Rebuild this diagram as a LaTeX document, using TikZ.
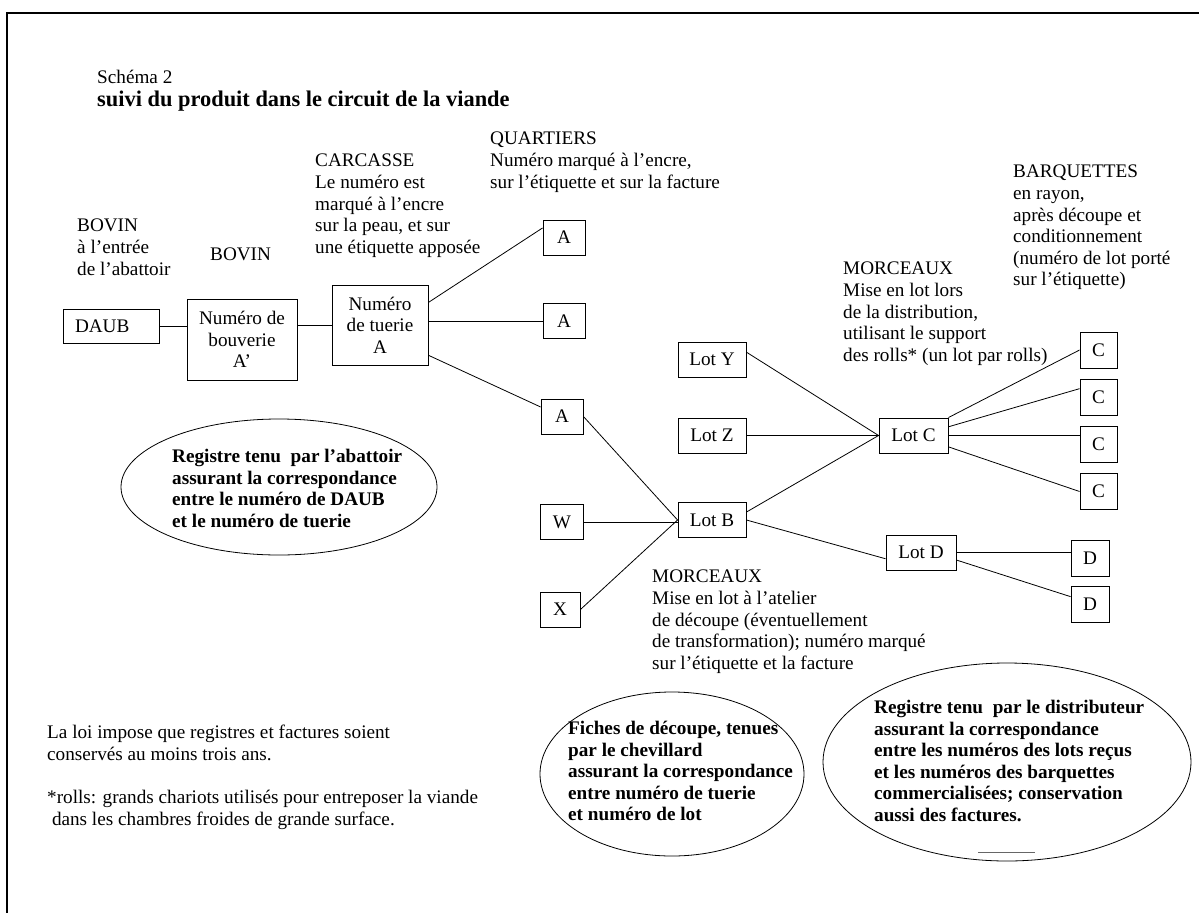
\documentclass[tikz,border=0pt]{standalone}
\usepackage{fontspec}
\setmainfont{Liberation Serif}
\usetikzlibrary{shapes.geometric}
\newcommand\txt{\fontsize{19.2}{21.6}\selectfont}
\newcommand\titre{\fontsize{22.4}{25}\selectfont\bfseries}
\tikzset{
  boite/.style={draw, line width=0.9pt, inner sep=0pt, minimum height=35pt, align=center, font=\txt},
  texte/.style={anchor=north west, inner sep=0pt, align=left, font=\txt},
  registre/.style={anchor=north west, inner sep=0pt, align=left, font=\txt\bfseries},
  lien/.style={line width=0.8pt}
}
\begin{document}
\begin{tikzpicture}[x=1pt,y=-1pt]
\useasboundingbox (0,0) rectangle (1199,913);
% cadre
\draw[line width=2.5pt] (6,13) -- (1199,13);
\draw[line width=1.5pt] (7,13) -- (7,913);
% titre
\node[texte] (schema) at (97,70) {Schéma 2};
\node[texte, font=\titre] (titre) at (97,91) {suivi du produit dans le circuit de la viande};
% abattoir
\node[boite, text width=72pt, inner xsep=12pt, align=left, minimum height=34pt] (daub) at (111,326) {DAUB};
\node[boite, minimum width=110pt, minimum height=81pt] (bouv) at (242,339.5) {Numéro de\\bouverie\\A’};
\node[boite, minimum width=96pt, minimum height=80pt] (tuer) at (380,325) {Numéro\\de tuerie\\A};
\node[boite, minimum width=42pt] (a1) at (564,237.5) {A};
\node[boite, minimum width=42pt] (a2) at (564,321) {A};
\node[boite, minimum width=42pt] (a3) at (562,416.5) {A};
% atelier de decoupe
\node[boite, minimum width=43pt] (bw) at (562,522) {W};
\node[boite, minimum width=40pt] (bx) at (560,609.5) {X};
\node[boite, minimum width=68pt] (loty) at (712,359.5) {Lot Y};
\node[boite, minimum width=68pt] (lotz) at (712,435.5) {Lot Z};
\node[boite, minimum width=68pt] (lotb) at (712,520) {Lot B};
% distribution
\node[boite, minimum width=69pt] (lotc) at (913.5,435.5) {Lot C};
\node[boite, minimum width=70pt] (lotd) at (921,552.5) {Lot D};
\foreach \i/\y in {1/350,2/397.5,3/444.5,4/491.5}
  \node[boite, minimum width=37pt, minimum height=36pt] (c\i) at (1098.5,\y) {C};
\foreach \i/\y in {1/558,2/604.5}
  \node[boite, minimum width=38pt, minimum height=36pt] (d\i) at (1090,\y) {D};
% liens
\draw[lien] (daub.east) -- (daub.east -| bouv.west);
\draw[lien] (bouv.east |- tuer.west) -- (tuer.west);
\draw[lien] (tuer.25) -- (a1.156);
\draw[lien] (a2.west -| tuer.east) -- (a2.west);
\draw[lien] (tuer.-32) -- (a3.156);
\draw[lien] (a3.east) -- (lotb.west);
\draw[lien] (bw.east) -- (bw.east -| lotb.west);
\draw[lien] (bx.east) -- (lotb.west);
\draw[lien] (lotb.13) -- (lotc.west);
\draw[lien] (loty.12) -- (lotc.west);
\draw[lien] (lotz.east) -- (lotc.west);
\draw[lien] (lotc.north east) -- (c1.west);
\draw[lien] (lotc.14) -- (c2.155);
\draw[lien] (lotc.east) -- (lotc.east -| c3.west);
\draw[lien] (lotc.-18) -- (c4.west);
\draw[lien] (lotb.east) -- (lotd.190);
\draw[lien] (lotd.east) -- (lotd.east -| d1.west);
\draw[lien] (lotd.-12) -- (d2.158);
% textes
\node[texte] (bovin) at (77,219) {BOVIN\\à l’entrée\\de l’abattoir};
\node[texte] (bovinb) at (210,248) {BOVIN};
\node[texte] (carcasse) at (315,154) {CARCASSE\\Le numéro est\\marqué à l’encre\\sur la peau, et sur\\une étiquette apposée};
\node[texte] (quartiers) at (490,132) {QUARTIERS\\Numéro marqué à l’encre,\\sur l’étiquette et sur la facture};
\node[texte] (morcdist) at (843,262) {MORCEAUX\\Mise en lot lors\\de la distribution,\\utilisant le support\\des rolls* (un lot par rolls)};
\node[texte] (barq) at (1013,165) {BARQUETTES\\en rayon,\\après découpe et\\conditionnement\\(numéro de lot porté\\sur l’étiquette)};
\node[texte] (morcdec) at (652,570) {MORCEAUX\\Mise en lot à l’atelier\\de découpe (éventuellement\\de transformation); numéro marqué\\sur l’étiquette et la facture};
\node[texte] (loi) at (47,725) {La loi impose que registres et factures soient\\conservés au moins trois ans.};
\node[texte] (rolls) at (47,790) {*rolls: grands chariots utilisés pour entreposer la viande\\\hspace*{4.8pt}dans les chambres froides de grande surface.};
% registres
\node[registre] (regabat) at (172,449) {Registre tenu\ \ par l’abattoir\\assurant la correspondance\\entre le numéro de DAUB\\et le numéro de tuerie};
\draw[lien] (279,487) ellipse [x radius=158, y radius=68];
\node[registre] (fiches) at (568,721) {Fiches de découpe, tenues\\par le chevillard\\assurant la correspondance\\entre numéro de tuerie\\et numéro de lot};
\draw[lien] (672,774) ellipse [x radius=132, y radius=82];
\node[registre] (regdist) at (874,700) {Registre tenu\ \ par le distributeur\\assurant la correspondance\\entre les numéros des lots reçus\\et les numéros des barquettes\\commercialisées; conservation\\aussi des factures.};
\draw[lien] (1007,762) ellipse [x radius=184, y radius=99];
\draw[line width=1pt, black!60] (978,852) -- (1035,852);
\end{tikzpicture}
\end{document}
